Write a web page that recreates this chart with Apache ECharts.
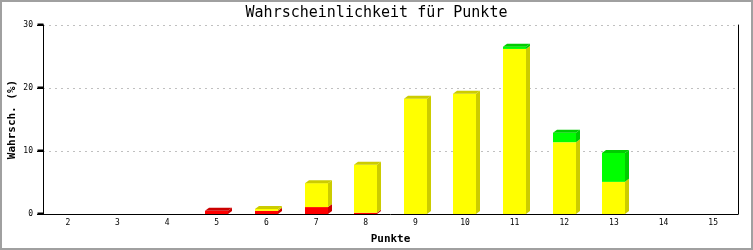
<!DOCTYPE html>
<html>
<head>
<meta charset="utf-8">
<script src="https://cdn.jsdelivr.net/npm/echarts@6/dist/echarts.min.js"></script>
<style>
html,body{margin:0;padding:0;background:#fff;}
#c{width:753px;height:250px;}
</style>
</head>
<body>
<div id="c"></div>
<script>
const categories = ['2','3','4','5','6','7','8','9','10','11','12','13','14','15'];
const redValues    = [0,0,0,0.5,0.5,1.1,0.2,0,0,0,0,0,0,0];
const yellowValues = [0,0,0,0,0.3,3.8,7.6,18.3,19.1,26.2,11.4,5.1,0,0];
const greenValues  = [0,0,0,0,0,0,0,0,0,0.35,1.5,4.6,0,0];
const yTicks = [0,10,20,30];

const segs = [
  {vals: redValues, front: '#ff0000', dark: '#cc0000'},
  {vals: yellowValues, front: '#ffff00', dark: '#cccc00'},
  {vals: greenValues, front: '#00ff00', dark: '#00cc00'}
];
const FONT = 'DejaVu Sans Mono';
const BW = 23, DX = 4, DY = 3, TICK = 6;

const chart = echarts.init(document.getElementById('c'), null, {renderer: 'canvas'});
chart.setOption({
  animation: false,
  backgroundColor: '#fff',
  title: {
    text: 'Wahrscheinlichkeit für Punkte',
    left: 'center', top: 1,
    textStyle: {fontFamily: FONT, fontSize: 15, fontWeight: 'normal', color: '#000'}
  },
  graphic: [{
    type: 'rect', silent: true, z: 100,
    shape: {x: 1, y: 1, width: 751, height: 248},
    style: {fill: 'none', stroke: '#a0a0a0', lineWidth: 2}
  }],
  grid: {left: 43, right: 15, top: 25, bottom: 36, containLabel: false, outerBoundsMode: 'none'},
  xAxis: {
    type: 'category', data: categories, boundaryGap: true,
    name: 'Punkte', nameLocation: 'middle', nameGap: 20,
    nameTextStyle: {fontFamily: FONT, fontSize: 11, fontWeight: 'bold', color: '#000'},
    axisLine: {lineStyle: {color: '#000', width: 1}},
    axisTick: {show: false},
    axisLabel: {fontFamily: FONT, fontSize: 8, color: '#000', margin: 5}
  },
  yAxis: [{
    type: 'value', min: 0, max: 30, interval: 10,
    name: 'Wahrsch. (%)', nameLocation: 'middle', nameGap: 25, nameMoveOverlap: false,
    nameTextStyle: {fontFamily: FONT, fontSize: 11, fontWeight: 'bold', color: '#000'},
    axisLine: {show: true, onZero: false, lineStyle: {color: '#000', width: 1}},
    axisTick: {show: true, inside: false, length: TICK, lineStyle: {color: '#000', width: 1}},
    axisLabel: {fontFamily: FONT, fontSize: 8, color: '#000', margin: 10},
    splitLine: {show: true, lineStyle: {color: '#c0c0c0', type: [2, 4], width: 1}}
  }, {
    type: 'value', min: 0, max: 30, interval: 10, position: 'right',
    axisLine: {show: true, onZero: false, lineStyle: {color: '#000', width: 1}},
    axisTick: {show: false}, axisLabel: {show: false}, splitLine: {show: false}
  }],
  series: [{
    type: 'custom',
    data: categories.map((c, i) => [i]),
    renderItem: function (params, api) {
      const i = api.value(0);
      const children = [];
      let base = 0;
      let topIdx = -1;
      segs.forEach((s, k) => { if (s.vals[i] > 0) topIdx = k; });
      segs.forEach((s, k) => {
        const v = s.vals[i];
        if (!(v > 0)) return;
        const p0 = api.coord([i, base]);
        const p1 = api.coord([i, base + v]);
        const x0 = Math.round(p0[0] - BW / 2), x1 = x0 + BW;
        const y0 = p0[1], y1 = p1[1];
        children.push({
          type: 'polygon',
          shape: {points: [[x1, y0], [x1 + DX, y0 - DY], [x1 + DX, y1 - DY], [x1, y1]]},
          style: {fill: s.dark}
        });
        children.push({
          type: 'rect',
          shape: {x: x0, y: y1, width: BW, height: y0 - y1},
          style: {fill: s.front}
        });
        if (k === topIdx) {
          children.push({
            type: 'polygon',
            shape: {points: [[x0, y1], [x0 + DX, y1 - DY], [x1 + DX, y1 - DY], [x1, y1]]},
            style: {fill: s.dark}
          });
        }
        base += v;
      });
      return {type: 'group', children: children};
    }
  }, {
    type: 'custom',
    clip: false,
    silent: true,
    z: 10,
    data: yTicks.map(v => [0, v]),
    renderItem: function (params, api) {
      const y = Math.round(api.coord([0, api.value(1)])[1]) - 0.5;
      const x = params.coordSys.x + 0.5;
      return {
        type: 'line',
        shape: {x1: x - TICK, y1: y, x2: x, y2: y},
        style: {stroke: '#000', lineWidth: 2}
      };
    }
  }]
});
</script>
</body>
</html>
